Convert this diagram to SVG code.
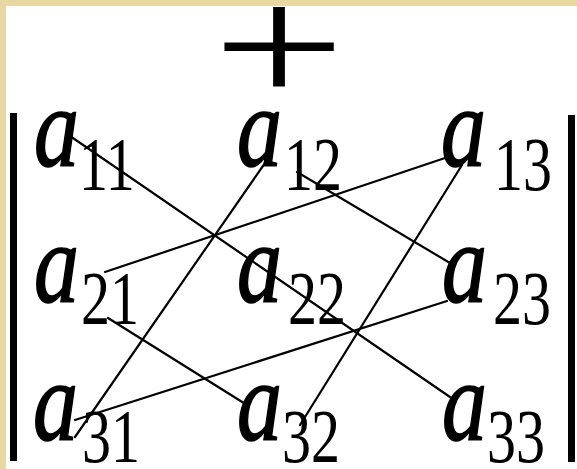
<svg xmlns="http://www.w3.org/2000/svg" width="577" height="469" viewBox="0 0 577 469">
<style>
.a{font-family:"Liberation Serif","Times New Roman",serif;font-style:italic;font-size:90px;fill:#000;stroke:#000;stroke-width:1.2}
.s{font-family:"Liberation Serif","Times New Roman",serif;font-size:58px;fill:#000}
.ln{stroke:#000;stroke-width:2.2;fill:none;stroke-linecap:round}
.bar{fill:#000}
</style>
<rect x="0" y="0" width="577" height="469" fill="#fff"/>
<rect x="0" y="0" width="577" height="6" fill="#E8D7A1"/>
<rect x="0" y="0" width="6" height="469" fill="#E8D7A1"/>
<g id="plus" transform="scale(1 0.72)">
<text x="279" y="142.8" text-anchor="middle" style="font-family:'Liberation Serif',serif;font-size:235px">+</text>
</g>
<g id="bars">
<rect class="bar" x="10" y="113" width="7" height="348"/>
<rect class="bar" x="568" y="115" width="7" height="347"/>
</g>
<g id="connectors">
<line class="ln" x1="70" y1="136" x2="450" y2="397"/>
<line class="ln" x1="265" y1="163" x2="75" y2="437"/>
<line class="ln" x1="448" y1="157" x2="105" y2="272"/>
<line class="ln" x1="462" y1="165" x2="300" y2="425"/>
<line class="ln" x1="447" y1="301" x2="75" y2="420"/>
<line class="ln" x1="297" y1="172" x2="455" y2="266"/>
<line class="ln" x1="108" y1="318" x2="247" y2="405"/>
</g>
<g id="a11"><text class="a" transform="scale(1 1.28)" x="34" y="129.7">a</text><text class="s" transform="scale(1 1.3)" x="79" y="146.2">11</text></g>
<g id="a12"><text class="a" transform="scale(1 1.28)" x="237" y="129.7">a</text><text class="s" transform="scale(1 1.3)" x="284" y="146.2">12</text></g>
<g id="a13"><text class="a" transform="scale(1 1.28)" x="441" y="129.7">a</text><text class="s" transform="scale(1 1.3)" x="494" y="146.2">13</text></g>
<g id="a21"><text class="a" transform="scale(1 1.28)" x="34" y="235.9">a</text><text class="s" transform="scale(1 1.3)" x="81" y="249.2">21</text></g>
<g id="a22"><text class="a" transform="scale(1 1.28)" x="237" y="235.9">a</text><text class="s" transform="scale(1 1.3)" x="288" y="249.2">22</text></g>
<g id="a23"><text class="a" transform="scale(1 1.28)" x="442" y="235.9">a</text><text class="s" transform="scale(1 1.3)" x="493" y="249.2">23</text></g>
<g id="a31"><text class="a" transform="scale(1 1.28)" x="33" y="343.8">a</text><text class="s" transform="scale(1 1.3)" x="82" y="355.4">31</text></g>
<g id="a32"><text class="a" transform="scale(1 1.28)" x="237" y="343.8">a</text><text class="s" transform="scale(1 1.3)" x="282" y="355.4">32</text></g>
<g id="a33"><text class="a" transform="scale(1 1.28)" x="442" y="343.8">a</text><text class="s" transform="scale(1 1.3)" x="487" y="355.4">33</text></g>
</svg>
